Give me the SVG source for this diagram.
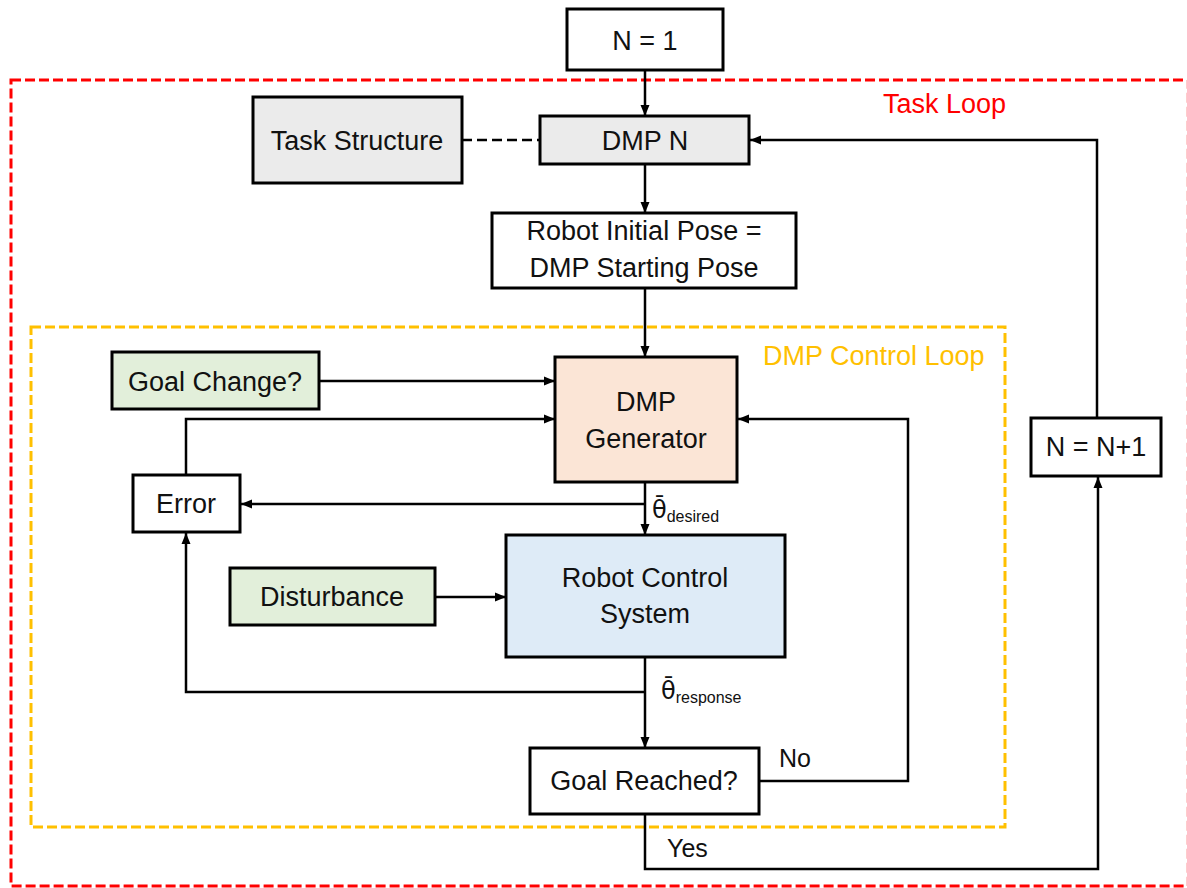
<svg xmlns="http://www.w3.org/2000/svg" width="1187" height="888" viewBox="0 0 1187 888">
  <style>
    .box { stroke: #000; stroke-width: 3; }
    .plain { fill: #ffffff; }
    .grey { fill: #ebebeb; }
    .green { fill: #e2efda; }
    .peach { fill: #fbe5d6; }
    .blue { fill: #deebf7; }
    .lbl { font-family: "Liberation Sans", "Noto Sans", sans-serif; font-size: 27px; fill: #111; text-anchor: middle; }
    .side { font-family: "Liberation Sans", "Noto Sans", sans-serif; font-size: 25px; fill: #111; }
    .theta { font-family: "DejaVu Sans", "Noto Sans", sans-serif; font-size: 24px; }
    .sub { font-family: "Liberation Sans", sans-serif; font-size: 16px; }
    .wire { fill: none; stroke: #000; stroke-width: 2.5; }
    .arrow { marker-end: url(#head); }
    .frame { fill: none; stroke-width: 3; stroke-dasharray: 10 4; }
  </style>
  <defs>
    <marker id="head" markerUnits="userSpaceOnUse" markerWidth="11" markerHeight="10" refX="11" refY="5" orient="auto">
      <path d="M0,0.5 L11,5 L0,9.5 z" fill="#000"/>
    </marker>
  </defs>

  <rect width="1187" height="888" fill="#ffffff"/>

  <!-- loop frames -->
  <g id="task-loop">
    <rect class="frame" x="11" y="80" width="1177.3" height="806" stroke="#ff0000"/>
    <text x="883" y="113" class="side" style="font-size:27px"><tspan fill="#ff0000">Task Loop</tspan></text>
  </g>
  <g id="dmp-control-loop">
    <rect class="frame" x="31" y="327" width="974" height="500" stroke="#ffc000"/>
    <text x="763" y="365" class="side" style="font-size:27px"><tspan fill="#ffc000">DMP Control Loop</tspan></text>
  </g>

  <!-- connectors -->
  <g id="connectors">
    <line class="wire arrow" x1="645" y1="70" x2="645" y2="116"/>
    <line class="wire" x1="462" y1="140" x2="540" y2="140" stroke-dasharray="10 5"/>
    <line class="wire arrow" x1="645" y1="165" x2="645" y2="213"/>
    <line class="wire arrow" x1="645" y1="288" x2="645" y2="357"/>
    <line class="wire arrow" x1="319" y1="381" x2="555" y2="381"/>
    <polyline class="wire arrow" points="186,474 186,419 555,419"/>
    <line class="wire arrow" x1="645" y1="504" x2="241" y2="504"/>
    <line class="wire arrow" x1="645" y1="482" x2="645" y2="535"/>
    <line class="wire arrow" x1="435" y1="597" x2="506" y2="597"/>
    <line class="wire arrow" x1="645" y1="657" x2="645" y2="748"/>
    <polyline class="wire arrow" points="645,692 186,692 186,533"/>
    <polyline class="wire arrow" points="760,781 908,781 908,419 738,419"/>
    <polyline class="wire arrow" points="645,815 645,869 1098,869 1098,477"/>
    <polyline class="wire arrow" points="1097,417 1097,140 750,140"/>
    <text class="side" x="652" y="518"><tspan class="theta">θ̄</tspan><tspan class="sub" dy="4">desired</tspan></text>
    <text class="side" x="661" y="699"><tspan class="theta">θ̄</tspan><tspan class="sub" dy="4">response</tspan></text>
    <text class="side" x="779" y="767">No</text>
    <text class="side" x="667" y="857">Yes</text>
  </g>

  <!-- nodes -->
  <g id="n-equals-1">
    <rect class="box plain" x="567" y="9" width="156" height="61"/>
    <text class="lbl" x="645" y="50">N = 1</text>
  </g>
  <g id="task-structure">
    <rect class="box grey" x="253" y="97" width="209" height="86"/>
    <text class="lbl" x="357" y="150">Task Structure</text>
  </g>
  <g id="dmp-n">
    <rect class="box grey" x="540" y="116" width="209" height="48"/>
    <text class="lbl" x="645" y="150">DMP N</text>
  </g>
  <g id="initial-pose">
    <rect class="box plain" x="492" y="213" width="304" height="75"/>
    <text class="lbl" x="644" y="240">Robot Initial Pose =</text>
    <text class="lbl" x="644" y="277">DMP Starting Pose</text>
  </g>
  <g id="goal-change">
    <rect class="box green" x="112" y="352" width="207" height="57"/>
    <text class="lbl" x="215" y="391">Goal Change?</text>
  </g>
  <g id="dmp-generator">
    <rect class="box peach" x="555" y="357" width="182" height="125"/>
    <text class="lbl" x="646" y="411">DMP</text>
    <text class="lbl" x="646" y="448">Generator</text>
  </g>
  <g id="error">
    <rect class="box plain" x="133" y="475" width="107" height="57"/>
    <text class="lbl" x="186" y="513">Error</text>
  </g>
  <g id="disturbance">
    <rect class="box green" x="230" y="568" width="205" height="57"/>
    <text class="lbl" x="332" y="606">Disturbance</text>
  </g>
  <g id="robot-control-system">
    <rect class="box blue" x="506" y="535" width="279" height="122"/>
    <text class="lbl" x="645" y="587">Robot Control</text>
    <text class="lbl" x="645" y="623">System</text>
  </g>
  <g id="goal-reached">
    <rect class="box plain" x="530" y="748" width="229" height="66"/>
    <text class="lbl" x="644" y="790">Goal Reached?</text>
  </g>
  <g id="n-increment">
    <rect class="box plain" x="1031" y="418" width="130" height="58"/>
    <text class="lbl" x="1096" y="456">N = N+1</text>
  </g>
</svg>
